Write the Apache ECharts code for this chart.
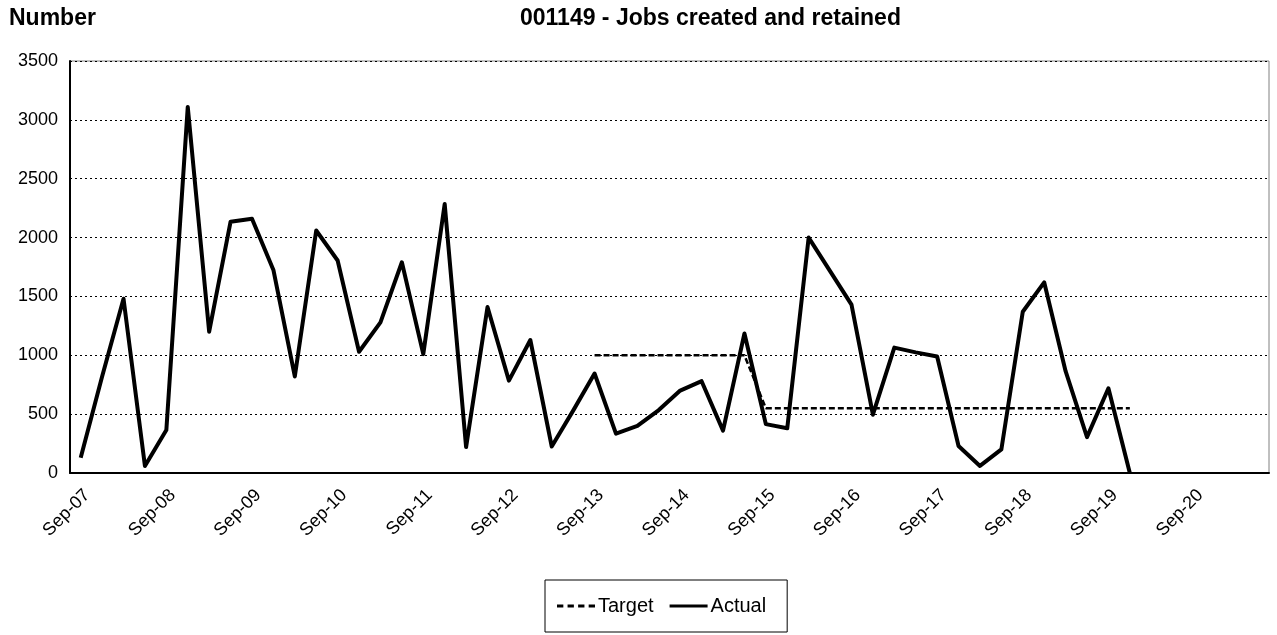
<!DOCTYPE html>
<html>
<head>
<meta charset="utf-8">
<script src="https://cdn.jsdelivr.net/npm/echarts@6/dist/echarts.min.js"></script>
<style>
html,body{margin:0;padding:0;background:#fff;}
#chart{width:1277px;height:635px;}
</style>
</head>
<body>
<div id="chart"></div>
<script>
var categories = [
  'Sep-07','Dec-07','Mar-08','Jun-08','Sep-08','Dec-08','Mar-09','Jun-09',
  'Sep-09','Dec-09','Mar-10','Jun-10','Sep-10','Dec-10','Mar-11','Jun-11',
  'Sep-11','Dec-11','Mar-12','Jun-12','Sep-12','Dec-12','Mar-13','Jun-13',
  'Sep-13','Dec-13','Mar-14','Jun-14','Sep-14','Dec-14','Mar-15','Jun-15',
  'Sep-15','Dec-15','Mar-16','Jun-16','Sep-16','Dec-16','Mar-17','Jun-17',
  'Sep-17','Dec-17','Mar-18','Jun-18','Sep-18','Dec-18','Mar-19','Jun-19',
  'Sep-19','Dec-19','Mar-20','Jun-20','Sep-20','Dec-20','Mar-21','Jun-21'
];
var actualValues = [
  130, 820, 1480, 60, 365, 3110, 1200, 2135,
  2160, 1725, 820, 2060, 1805, 1030, 1280, 1790,
  1010, 2285, 220, 1410, 785, 1130, 225, 530,
  845, 335, 400, 535, 700, 780, 360, 1185,
  415, 380, 2000, 1715, 1430, 495, 1065, 1025,
  990, 230, 60, 200, 1370, 1620, 865, 305,
  720, 0
];
var targetValues = [
  null, null, null, null, null, null, null, null,
  null, null, null, null, null, null, null, null,
  null, null, null, null, null, null, null, null,
  1000, 1000, 1000, 1000, 1000, 1000, 1000, 1000,
  550, 550, 550, 550, 550, 550, 550, 550,
  550, 550, 550, 550, 550, 550, 550, 550,
  550, 550
];
var yTicks = { min: 0, max: 3500, interval: 500 };

var FONT = '"Liberation Sans", Arial, sans-serif';
var chart = echarts.init(document.getElementById('chart'), null, { renderer: 'canvas' });
chart.setOption({
  animation: false,
  backgroundColor: '#ffffff',
  textStyle: { fontFamily: FONT, color: '#000' },
  title: [
    { text: 'Number', left: 9, top: 7, padding: 0,
      textStyle: { fontFamily: FONT, fontSize: 23, fontWeight: 'bold', color: '#000' } },
    { text: '001149 - Jobs created and retained', left: 520, top: 7, padding: 0,
      textStyle: { fontFamily: FONT, fontSize: 23, fontWeight: 'bold', color: '#000' } }
  ],
  grid: { left: 70, right: 8, top: 61, bottom: 162, show: true, borderColor: '#808080', borderWidth: 1 },
  legend: {
    data: [
      { name: 'Target', icon: 'path://M0,0h6v3h-6z M10,0h6v3h-6z M20,0h6v3h-6z M30,0h6v3h-6z' },
      { name: 'Actual', icon: 'path://M0,0h40v3h-40z' }
    ],
    left: 545, top: 580,
    padding: [16, 21, 16, 12],
    itemWidth: 38, itemHeight: 3.5, itemGap: 16,
    borderColor: '#000', borderWidth: 1,
    textStyle: { fontFamily: FONT, fontSize: 20, color: '#000', padding: [0, 0, 0, -2] }
  },
  xAxis: {
    type: 'category',
    data: categories,
    boundaryGap: true,
    axisLine: { show: true, lineStyle: { color: '#000', width: 2 } },
    axisTick: { show: false },
    axisLabel: {
      interval: 3, rotate: 45, margin: 13, fontSize: 18, color: '#000', fontFamily: FONT,
      verticalAlign: 'top'
    },
    splitLine: { show: false }
  },
  yAxis: {
    type: 'value',
    min: yTicks.min, max: yTicks.max, interval: yTicks.interval,
    axisLine: { show: true, lineStyle: { color: '#000', width: 2 } },
    axisTick: { show: false },
    axisLabel: { fontSize: 18, color: '#000', margin: 12, fontFamily: FONT,
      formatter: function (v) { return String(v); } },
    splitLine: { show: true, lineStyle: { color: '#000', width: 1, type: [2, 3] } }
  },
  series: [
    {
      name: 'Target', type: 'line', data: targetValues,
      symbol: 'none', connectNulls: false,
      lineStyle: { color: '#000', width: 2.5, type: [6, 3] },
      itemStyle: { color: '#000' }
    },
    {
      name: 'Actual', type: 'line', data: actualValues,
      symbol: 'none',
      lineStyle: { color: '#000', width: 4, join: 'round' },
      itemStyle: { color: '#000' }
    }
  ]
});
</script>
</body>
</html>
